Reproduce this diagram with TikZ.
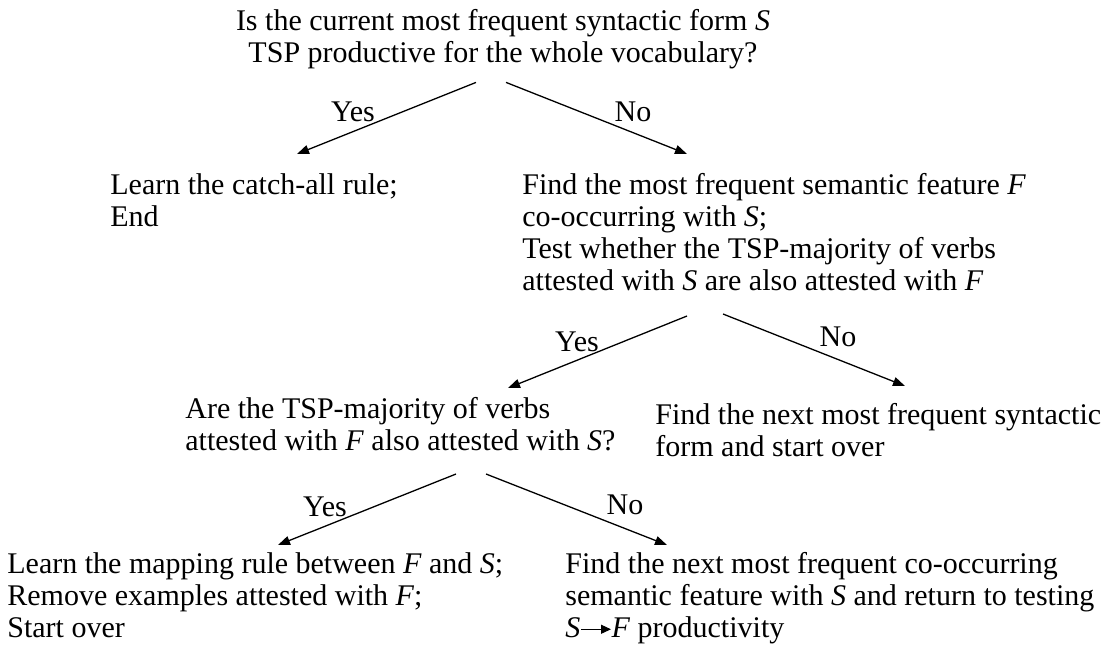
\documentclass[tikz,border=0pt]{standalone}
\usepackage{fontspec}
\setmainfont{Liberation Serif}
\usepackage{tikz}
\usetikzlibrary{arrows.meta, positioning}
\newcommand{\sftof}{\tikz[x=1pt,y=1pt,baseline=-0.6ex]\draw[line width=0.6pt,-{Triangle[length=5pt,width=4.5pt]}] (0,0) -- (15pt,0);}
\tikzset{
  txt/.style={anchor=north west, align=left, inner sep=0pt, font=\fontsize{15}{16}\selectfont},
  ttl/.style={txt, anchor=north, align=center},
  ans/.style={inner sep=0pt, font=\fontsize{15}{16}\selectfont},
  arrow/.style={-{Triangle[length=6pt,width=4.5pt]}, line width=0.65pt}
}

\begin{document}
\begin{tikzpicture}[x=0.5pt, y=-0.5pt]
  \useasboundingbox (0,0) rectangle (1107,659);
  \node[ttl] (q1) at (503,9) {Is the current most frequent syntactic form \textit{S}\\ TSP productive for the whole vocabulary?};
  \node[txt] (catchall) at (110,173) {Learn the catch-all rule;\\ End};
  \node[txt] (findF) at (522,173) {Find the most frequent semantic feature \textit{F}\\ co-occurring with \textit{S};\\ Test whether the TSP-majority of verbs\\ attested with \textit{S} are also attested with \textit{F}};
  \node[txt] (q2) at (185,397) {Are the TSP-majority of verbs\\ attested with \textit{F} also attested with \textit{S}?};
  \node[txt] (nextS) at (655,403) {Find the next most frequent syntactic\\ form and start over};
  \node[txt] (mapping) at (7,552) {Learn the mapping rule between \textit{F} and \textit{S};\\ Remove examples attested with \textit{F};\\ Start over};
  \node[txt] (nextF) at (565,552) {Find the next most frequent co-occurring\\ semantic feature with \textit{S} and return to testing\\ \textit{S}\sftof\textit{F} productivity};
  % answers
  \node[ans] (yes1) at (353,112) {Yes};
  \node[ans] (no1) at (633,112) {No};
  \node[ans] (yes2) at (577,342) {Yes};
  \node[ans] (no2) at (838,337) {No};
  \node[ans] (yes3) at (325,507) {Yes};
  \node[ans] (no3) at (625,505) {No};
  % connectors
  \draw[arrow] ([shift={(-27,13)}]q1.south) -- ([shift={(187,-19)}]catchall.north west);
  \draw[arrow] ([shift={(3,13)}]q1.south) -- ([shift={(165,-19)}]findF.north west);
  \draw[arrow] ([shift={(165,143)}]findF.north west) -- ([shift={(323,-9)}]q2.north west);
  \draw[arrow] ([shift={(201,141)}]findF.north west) -- ([shift={(250,-17)}]nextS.north west);
  \draw[arrow] ([shift={(271,77)}]q2.north west) -- ([shift={(271,-7)}]mapping.north west);
  \draw[arrow] ([shift={(301,77)}]q2.north west) -- ([shift={(102,-7)}]nextF.north west);
\end{tikzpicture}
\end{document}
